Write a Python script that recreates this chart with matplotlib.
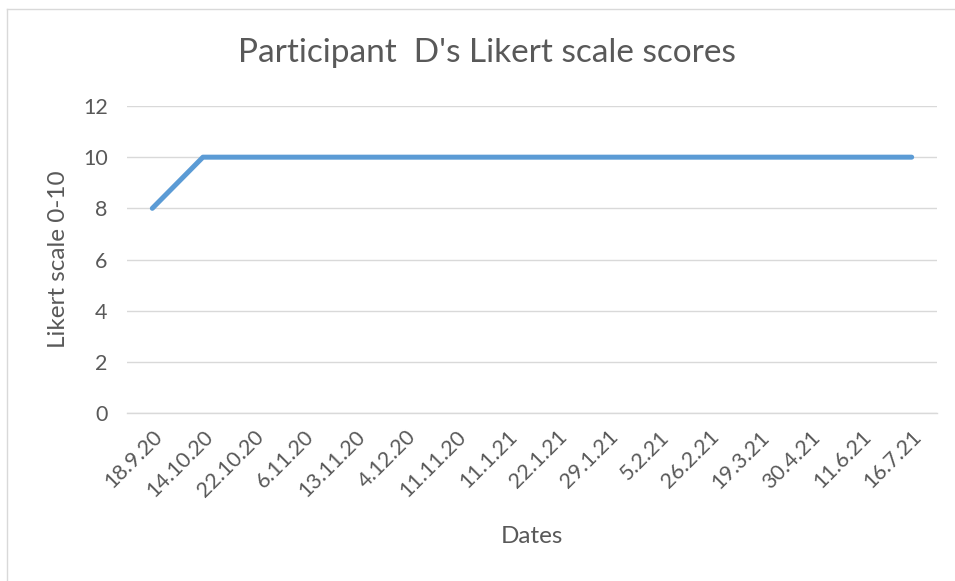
import matplotlib
matplotlib.use("Agg")
import matplotlib.pyplot as plt
from matplotlib.lines import Line2D

dates = ["18.9.20", "14.10.20", "22.10.20", "6.11.20", "13.11.20", "4.12.20",
         "11.11.20", "11.1.21", "22.1.21", "29.1.21", "5.2.21", "26.2.21",
         "19.3.21", "30.4.21", "11.6.21", "16.7.21"]
scores = [8, 10, 10, 10, 10, 10, 10, 10, 10, 10, 10, 10, 10, 10, 10, 10]
y_ticks = [0, 2, 4, 6, 8, 10, 12]

plt.rcParams['font.family'] = ['Lato', 'DejaVu Sans']
text_color = '#595959'
grid_color = '#D9D9D9'

W, H = 955, 581
fig = plt.figure(figsize=(W / 100, H / 100), dpi=100)
ax = fig.add_axes([127 / W, 168 / H, 810 / W, 307 / H])

x = list(range(len(dates)))
ax.plot(x, scores, color='#5B9BD5', linewidth=3.6, solid_capstyle='round',
        solid_joinstyle='round', zorder=3)

ax.set_xlim(-0.5, len(dates) - 0.5)
ax.set_ylim(0, 12)
ax.set_yticks(y_ticks)
ax.set_yticklabels([str(v) for v in y_ticks])
ax.set_xticks(x)
ax.set_xticklabels(dates, rotation=45, ha='right', rotation_mode='anchor')

ax.yaxis.grid(True, color=grid_color, linewidth=1.0)
ax.set_axisbelow(True)
for s in ['top', 'right', 'left']:
    ax.spines[s].set_visible(False)
ax.spines['bottom'].set_color(grid_color)
ax.spines['bottom'].set_linewidth(1.0)
ax.tick_params(axis='both', length=0, colors=text_color, labelsize=15.5)
ax.tick_params(axis='y', pad=14)
ax.tick_params(axis='x', pad=10)

ax.set_xlabel('Dates', color=text_color, fontsize=17.5, labelpad=18)
ax.set_ylabel('Likert scale 0-10', color=text_color, fontsize=17.5, labelpad=10)
fig.text(487 / W, 1 - 53 / H, "Participant  D's Likert scale scores",
         ha='center', va='center', color=text_color, fontsize=24)

# chart-area border
fig.add_artist(Line2D([6.5 / W, 6.5 / W], [0, 1 - 8.5 / H], transform=fig.transFigure,
                      color=grid_color, linewidth=1.0))
fig.add_artist(Line2D([6.5 / W, 1], [1 - 8.5 / H, 1 - 8.5 / H], transform=fig.transFigure,
                      color=grid_color, linewidth=1.0))

fig.savefig('out.png', dpi=100, facecolor='white')
